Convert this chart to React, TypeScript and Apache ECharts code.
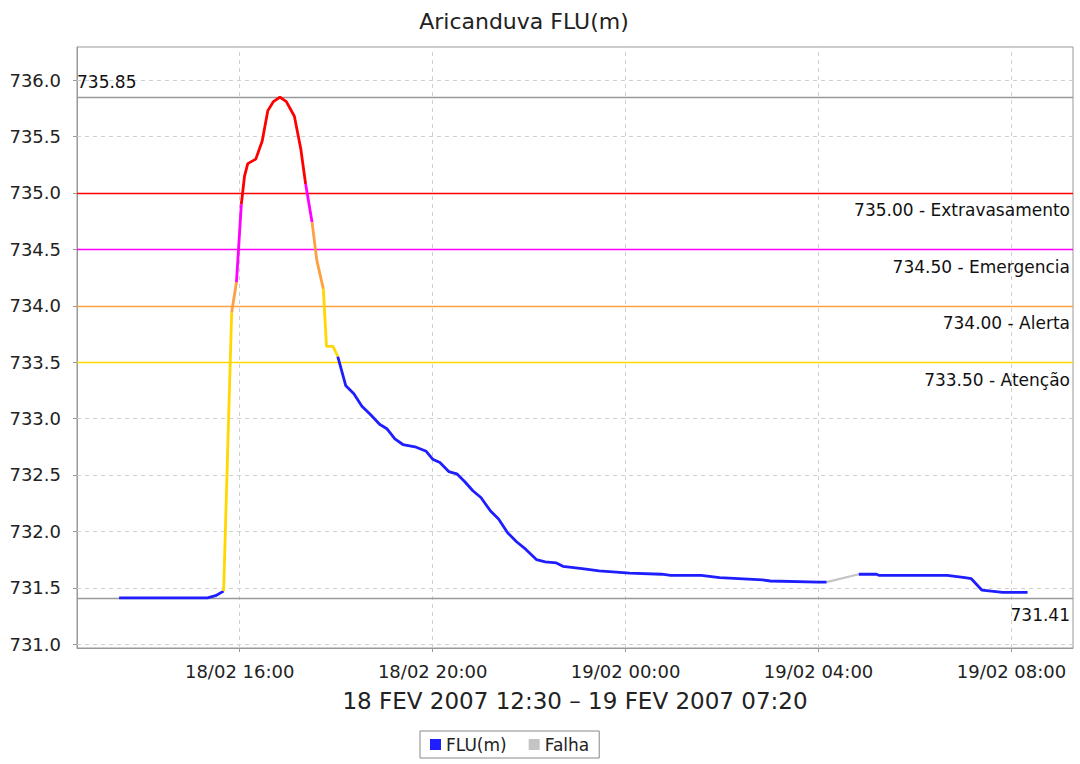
import React, { useEffect, useRef } from "react";
import * as echarts from "echarts";

const chartTitle = "Aricanduva FLU(m)";
const periodLabel = "18 FEV 2007 12:30 – 19 FEV 2007 07:20";

// FLU(m) readings (null = no data, "Falha")
const fluTimes = [
  "18/02 13:30", "18/02 14:00", "18/02 14:30", "18/02 15:00", "18/02 15:20",
  "18/02 15:30", "18/02 15:40", "18/02 15:50", "18/02 15:56", "18/02 16:02",
  "18/02 16:06", "18/02 16:10", "18/02 16:20", "18/02 16:28", "18/02 16:35",
  "18/02 16:42", "18/02 16:50", "18/02 16:58", "18/02 17:08", "18/02 17:16",
  "18/02 17:22", "18/02 17:30", "18/02 17:36", "18/02 17:44", "18/02 17:48",
  "18/02 17:56", "18/02 18:02", "18/02 18:12", "18/02 18:22", "18/02 18:32",
  "18/02 18:42", "18/02 18:54", "18/02 19:03", "18/02 19:13", "18/02 19:23",
  "18/02 19:38", "18/02 19:52", "18/02 20:00", "18/02 20:09", "18/02 20:20",
  "18/02 20:30", "18/02 20:40", "18/02 20:50", "18/02 21:00", "18/02 21:12",
  "18/02 21:22", "18/02 21:33", "18/02 21:44", "18/02 21:56", "18/02 22:09",
  "18/02 22:20", "18/02 22:34", "18/02 22:42", "18/02 23:06", "18/02 23:27",
  "19/02 00:05", "19/02 00:45", "19/02 00:56", "19/02 01:34", "19/02 01:57",
  "19/02 02:50", "19/02 03:00", "19/02 04:00", "19/02 04:10", "19/02 04:30",
  "19/02 04:50", "19/02 05:12", "19/02 05:15", "19/02 06:40", "19/02 07:02",
  "19/02 07:10", "19/02 07:23", "19/02 07:35", "19/02 07:49", "19/02 08:20",
];
const fluValues: (number | null)[] = [
  731.41, 731.41, 731.41, 731.41, 731.41,
  731.43, 731.47, 733.94, 734.21, 734.9,
  735.15, 735.26, 735.3, 735.46, 735.73,
  735.81, 735.85, 735.81, 735.68, 735.39,
  735.08, 734.74, 734.4, 734.15, 733.64,
  733.64, 733.55, 733.29, 733.22, 733.11,
  733.04, 732.95, 732.91, 732.82, 732.77,
  732.75, 732.71, 732.64, 732.61, 732.53,
  732.51, 732.44, 732.36, 732.3, 732.18,
  732.11, 731.99, 731.91, 731.84, 731.75,
  731.73, 731.72, 731.69, 731.67, 731.65,
  731.63, 731.62, 731.61, 731.61, 731.59,
  731.57, 731.56, 731.55, 731.55, null,
  731.62, 731.62, 731.61, 731.61, 731.59,
  731.58, 731.48, 731.47, 731.46, 731.46,
];

const falhaTimes = ["19/02 04:10", "19/02 04:50"];
const falhaValues = [731.55, 731.62];

const xTickLabels = ["18/02 16:00", "18/02 20:00", "19/02 00:00", "19/02 04:00", "19/02 08:00"];
const yTickValues = [731.0, 731.5, 732.0, 732.5, 733.0, 733.5, 734.0, 734.5, 735.0, 735.5, 736.0];

const thresholdValues = [735.0, 734.5, 734.0, 733.5];
const thresholdNames = ["Extravasamento", "Emergencia", "Alerta", "Atenção"];
const thresholdColors = ["#ff0000", "#ff00ff", "#ffa040", "#ffd800"];
const levelMax = 735.85;
const levelMin = 731.41;

const BLUE = "#1e1eff";
const GRAY = "#c4c4c4";
const FONT = "DejaVu Sans";

function toHours(s: string): number {
  const day = parseInt(s.slice(0, 2), 10);
  const hh = parseInt(s.slice(6, 8), 10);
  const mm = parseInt(s.slice(9, 11), 10);
  return (day - 18) * 24 + hh + mm / 60;
}

function levelColor(v: number): string {
  if (v >= thresholdValues[0]) return thresholdColors[0];
  if (v >= thresholdValues[1]) return thresholdColors[1];
  if (v >= thresholdValues[2]) return thresholdColors[2];
  if (v >= thresholdValues[3]) return thresholdColors[3];
  return BLUE;
}

export default function App() {
  const ref = useRef<HTMLDivElement>(null);

  useEffect(() => {
    if (!ref.current) return;
    const chart = echarts.init(ref.current, null, { renderer: "svg" });

    const xTickVals = xTickLabels.map(toHours);
    const pts = fluTimes.map((t, i) => [toHours(t), fluValues[i]]);

    // split into coloured runs, each segment coloured by its end point's level
    type Run = { color: string; data: (number | null)[][]; end: number };
    const runs: Run[] = [];
    for (let i = 1; i < pts.length; i++) {
      const a = fluValues[i - 1];
      const b = fluValues[i];
      if (a == null || b == null) continue;
      const c = levelColor(b);
      const last = runs[runs.length - 1];
      if (last && last.color === c && last.end === i - 1) {
        last.data.push(pts[i]);
        last.end = i;
      } else {
        runs.push({ color: c, data: [pts[i - 1], pts[i]], end: i });
      }
    }

    const range = levelMax - levelMin;
    const yMin = levelMin - 0.1 * range;
    const yMax = levelMax + 0.1 * range;
    const xMin = 12.627;
    const xMax = 33.275;

    const labelStyle = { color: "#111", fontSize: 17, fontFamily: FONT };

    const thresholdLines = thresholdValues.map((v, i) => ({
      yAxis: v,
      lineStyle: { color: thresholdColors[i], width: 1.3, type: "solid" },
      label: {
        show: true,
        position: "insideEndBottom",
        distance: [3, 9],
        formatter: `${v.toFixed(2)} - ${thresholdNames[i]}`,
        ...labelStyle,
      },
    }));

    const segSeries = runs.map((r, i) => ({
      type: "line",
      name: r.color === BLUE ? "FLU(m)" : `FLU(m) #${i}`,
      data: r.data,
      symbol: "none",
      z: 5,
      lineStyle: { color: r.color, width: 2.8 },
      itemStyle: { color: r.color },
    }));

    const option: any = {
      animation: false,
      backgroundColor: "#ffffff",
      textStyle: { fontFamily: FONT },
      graphic: [
        {
          type: "text",
          style: {
            x: 524,
            y: 21,
            text: chartTitle,
            textAlign: "center",
            textVerticalAlign: "middle",
            fontSize: 22,
            fontFamily: FONT,
            fill: "#222",
          },
        },
      ],
      legend: {
        data: [
          { name: "FLU(m)", icon: "rect", itemStyle: { color: BLUE } },
          { name: "Falha", icon: "rect", itemStyle: { color: GRAY } },
        ],
        left: 420,
        top: 731,
        itemWidth: 11,
        itemHeight: 11,
        itemGap: 22,
        selectedMode: false,
        borderColor: "#888",
        borderWidth: 1,
        borderRadius: 0,
        padding: [5, 10],
        textStyle: { fontSize: 17, color: "#222", fontFamily: FONT },
      },
      grid: {
        left: 77,
        right: 7,
        top: 47,
        bottom: 116,
        show: true,
        borderColor: "#999",
        borderWidth: 1,
        backgroundColor: "#fff",
        containLabel: false,
      },
      xAxis: {
        type: "value",
        min: xMin,
        max: xMax,
        name: periodLabel,
        nameLocation: "middle",
        nameGap: 41,
        nameTextStyle: { fontSize: 23, color: "#222", fontFamily: FONT },
        axisLine: { show: true, lineStyle: { color: "#999" } },
        axisTick: { show: true, customValues: xTickVals, length: 4, lineStyle: { color: "#999" } },
        axisLabel: {
          customValues: xTickVals,
          formatter: (v: number) => {
            const k = xTickVals.findIndex((t) => Math.abs(t - v) < 1e-6);
            return k >= 0 ? xTickLabels[k] : "";
          },
          fontSize: 18,
          color: "#222",
          fontFamily: FONT,
          margin: 14,
        },
        splitLine: { show: false },
      },
      yAxis: {
        type: "value",
        min: yMin,
        max: yMax,
        axisLine: { show: true, lineStyle: { color: "#999" } },
        axisTick: { show: true, customValues: yTickValues, length: 4, lineStyle: { color: "#999" } },
        axisLabel: {
          customValues: yTickValues,
          formatter: (v: number) => v.toFixed(1),
          fontSize: 18,
          color: "#222",
          fontFamily: FONT,
          margin: 16,
        },
        splitLine: { show: false },
      },
      series: [
        {
          type: "line",
          name: "grid",
          data: [],
          z: 1,
          silent: true,
          markLine: {
            silent: true,
            symbol: ["none", "none"],
            label: { show: false },
            lineStyle: { color: "#d0d0d0", type: [4, 4], width: 1 },
            data: [
              ...xTickVals.map((v) => ({ xAxis: v })),
              ...yTickValues.map((v) => ({ yAxis: v })),
            ],
          },
        },
        {
          type: "line",
          name: "limits",
          data: [],
          z: 2,
          silent: true,
          markLine: {
            silent: true,
            symbol: ["none", "none"],
            data: [
              ...thresholdLines,
              {
                yAxis: levelMax,
                lineStyle: { color: "#999", width: 1.3, type: "solid" },
                label: {
                  show: true,
                  position: "insideStartTop",
                  distance: [0, 7],
                  formatter: levelMax.toFixed(2),
                  ...labelStyle,
                },
              },
              {
                yAxis: levelMin,
                lineStyle: { color: "#999", width: 1.3, type: "solid" },
                label: {
                  show: true,
                  position: "insideEndBottom",
                  distance: [3, 9],
                  formatter: levelMin.toFixed(2),
                  ...labelStyle,
                },
              },
            ],
          },
        },
        ...segSeries,
        {
          type: "line",
          name: "Falha",
          data: falhaTimes.map((t, i) => [toHours(t), falhaValues[i]]),
          symbol: "none",
          z: 4,
          lineStyle: { color: GRAY, width: 2.2 },
          itemStyle: { color: GRAY },
        },
      ],
    };

    chart.setOption(option);
    return () => chart.dispose();
  }, []);

  return (
    <div
      ref={ref}
      style={{ position: "absolute", left: 0, top: 0, width: 1080, height: 764 }}
    />
  );
}
